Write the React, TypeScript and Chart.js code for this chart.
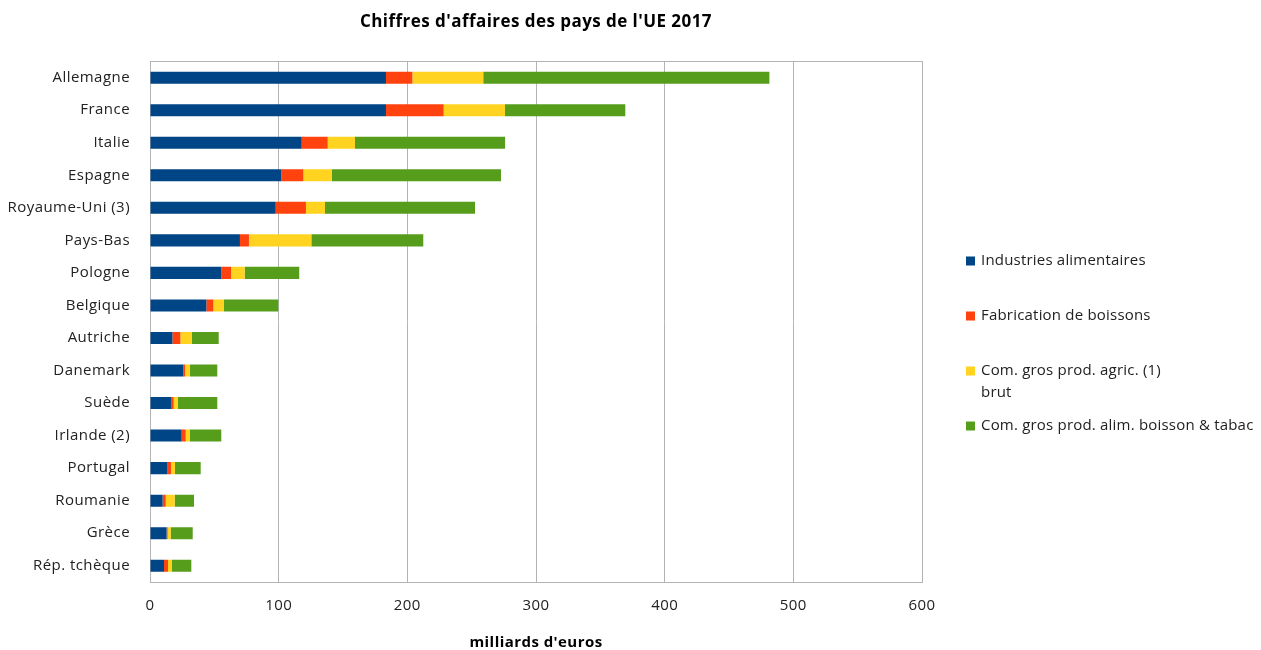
import { useEffect, useRef } from 'react';
import { Chart, registerables } from 'chart.js';

Chart.register(...registerables);

const FONT = '"Open Sans", sans-serif';
const TEXT_COLOR = '#222222';
const GRID_COLOR = '#b4b4b4';
const LETTER_SPACING = '0.45px';
const LEGEND_LETTER_SPACING = '0.2px';

const categories = [
  'Allemagne', 'France', 'Italie', 'Espagne', 'Royaume-Uni (3)', 'Pays-Bas', 'Pologne', 'Belgique',
  'Autriche', 'Danemark', 'Suède', 'Irlande (2)', 'Portugal', 'Roumanie', 'Grèce', 'Rép. tchèque',
];

const industriesAlimentaires = [183.4, 183.4, 117.9, 102.1, 97.7, 69.9, 55.4, 43.8, 17.4, 25.9, 16.3, 24.6, 13.2, 9.8, 12.9, 10.9];
const fabricationBoissons = [20.5, 44.8, 20.2, 17.1, 23.5, 7.0, 7.6, 5.4, 6.2, 1.3, 2.1, 3.1, 3.1, 2.4, 0.8, 3.1];
const comGrosAgric = [55.1, 47.7, 21.2, 22.2, 14.8, 48.5, 10.6, 8.3, 8.8, 3.9, 3.1, 3.1, 3.1, 7.0, 2.4, 3.1];
const comGrosAlim = [222.4, 93.5, 116.7, 131.4, 116.6, 87.0, 42.4, 42.2, 21.0, 21.2, 30.8, 24.6, 20.0, 15.0, 17.1, 15.0];

const legendLabels: string[][] = [
  ['Industries alimentaires'],
  ['Fabrication de boissons'],
  ['Com. gros prod. agric. (1)', 'brut'],
  ['Com. gros prod. alim. boisson & tabac'],
];
const seriesColors = ['#004586', '#ff420e', '#ffd320', '#579d1c'];

const xTicks = [0, 100, 200, 300, 400, 500, 600];

const spacingPlugin = {
  id: 'letterSpacing',
  beforeDraw(chart: any) {
    (chart.ctx as any).letterSpacing = LETTER_SPACING;
  },
};

const framePlugin = {
  id: 'frame',
  beforeDatasetsDraw(chart: any) {
    const { ctx, chartArea } = chart;
    ctx.save();
    ctx.strokeStyle = GRID_COLOR;
    ctx.lineWidth = 1;
    const l = Math.round(chartArea.left) + 0.5;
    const t = Math.round(chartArea.top) + 0.5;
    const r = Math.round(chartArea.right) + 0.5;
    const b = Math.round(chartArea.bottom) + 0.5;
    ctx.strokeRect(l, t, r - l, b - t);
    ctx.restore();
  },
};

const legendPlugin = {
  id: 'sideLegend',
  afterDraw(chart: any) {
    const { ctx, chartArea } = chart;
    ctx.save();
    (ctx as any).letterSpacing = LEGEND_LETTER_SPACING;
    ctx.font = `15px ${FONT}`;
    ctx.textBaseline = 'middle';
    ctx.textAlign = 'left';
    const boxX = chartArea.right + 44;
    const textX = chartArea.right + 59;
    const startY = 261;
    const step = 55;
    legendLabels.forEach((lines, i) => {
      const y = startY + i * step;
      ctx.fillStyle = seriesColors[i];
      ctx.fillRect(boxX, y - 4.5, 9, 9);
      ctx.fillStyle = TEXT_COLOR;
      lines.forEach((line, j) => {
        ctx.fillText(line, textX, y + j * 22);
      });
    });
    ctx.restore();
  },
};

export default function App() {
  const ref = useRef<HTMLCanvasElement>(null);

  useEffect(() => {
    document.body.style.margin = '0';
    const series = [industriesAlimentaires, fabricationBoissons, comGrosAgric, comGrosAlim];
    const chart = new Chart(ref.current as HTMLCanvasElement, {
      type: 'bar',
      data: {
        labels: categories,
        datasets: series.map((data, i) => ({
          label: legendLabels[i].join(' '),
          data,
          backgroundColor: seriesColors[i],
          borderWidth: 0,
          categoryPercentage: 1,
          barPercentage: 0.37,
        })),
      },
      options: {
        indexAxis: 'y',
        animation: false,
        responsive: false,
        layout: { padding: { right: 339, left: 0, top: 0, bottom: 0 } },
        plugins: {
          legend: { display: false },
          tooltip: { enabled: false },
          title: {
            display: true,
            text: "Chiffres d'affaires des pays de l'UE 2017",
            fullSize: false,
            color: '#000000',
            font: { family: FONT, size: 17, weight: 'bold', lineHeight: 1.2 },
            padding: { top: 12, bottom: 29 },
          },
        },
        scales: {
          x: {
            stacked: true,
            min: 0,
            max: 600,
            afterBuildTicks: (scale: any) => {
              scale.ticks = xTicks.map((v) => ({ value: v }));
            },
            ticks: {
              padding: 15,
              color: TEXT_COLOR,
              font: { family: FONT, size: 15 },
            },
            grid: { color: GRID_COLOR, lineWidth: 1, drawTicks: false },
            border: { display: false },
            title: {
              display: true,
              text: "milliards d'euros",
              color: '#000000',
              font: { family: FONT, size: 15, weight: 'bold', lineHeight: 1 },
              padding: { top: 0, bottom: 0 },
            },
            afterFit: (scale: any) => {
              scale.height = 68;
            },
          },
          y: {
            stacked: true,
            grid: { display: false, drawTicks: false },
            border: { display: false },
            ticks: {
              padding: 20,
              color: TEXT_COLOR,
              font: { family: FONT, size: 15 },
            },
            afterFit: (scale: any) => {
              scale.width = 150;
            },
          },
        },
      },
      plugins: [spacingPlugin, framePlugin, legendPlugin],
    });
    return () => chart.destroy();
  }, []);

  return <canvas ref={ref} width={1261} height={650} style={{ display: 'block' }} />;
}
